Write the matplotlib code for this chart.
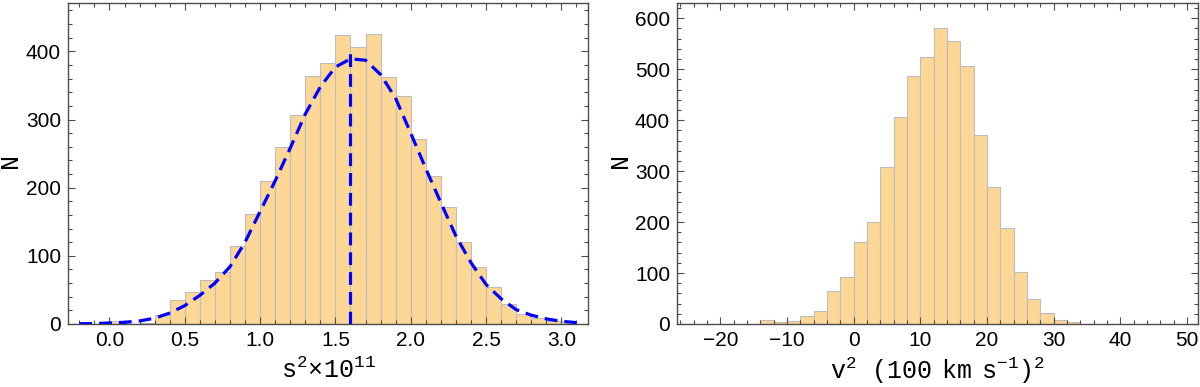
import matplotlib
matplotlib.use("Agg")
import matplotlib.pyplot as plt
from matplotlib.ticker import MultipleLocator
import numpy as np

# left histogram: s^2 x 1e11, bins of 0.1 starting at 0.0
s2_edges = np.round(np.arange(0.0, 3.1, 0.1), 2)
s2_counts = [4, 0, 1, 13, 35, 47, 64, 76, 114, 161, 210, 260, 306, 364, 383,
             424, 407, 425, 362, 335, 272, 217, 172, 120, 84, 55, 30, 15, 9, 5, 4]

# fitted curve
fit_x = np.round(np.arange(-0.2, 3.15, 0.1), 2)
fit_y = [0.3, 0.7, 1.5, 2.5, 4.5, 8.5, 16, 27, 42, 60, 84, 120, 165, 210, 258,
         308, 348, 377, 389, 387, 366, 331, 280, 228, 178, 129, 90, 58, 37,
         21, 13, 7.5, 4, 2]
peak_x = 1.6
peak_top = 402

# right histogram: v^2 in (100 km/s)^2, bins of 2 starting at -14
v2_edges = np.arange(-14, 34, 2)
v2_counts = [7, 3, 5, 16, 25, 64, 93, 161, 200, 309, 407, 487, 524, 581,
             555, 506, 371, 269, 188, 102, 50, 22, 8, 3]

bar_color = "#fdd795"
edge_color = "#bdbdbd"
frame_color = "#4d4d4d"

plt.rcParams["font.family"] = ["Liberation Sans", "DejaVu Sans"]
plt.rcParams["mathtext.fontset"] = "custom"
plt.rcParams["mathtext.rm"] = "Liberation Mono"
plt.rcParams["mathtext.it"] = "Liberation Mono"

fig = plt.figure(figsize=(12, 3.87), dpi=100)
ax1 = fig.add_axes([0.0567, 0.1628, 0.4333, 0.8295])
ax2 = fig.add_axes([0.5642, 0.1628, 0.4339, 0.8295])


def style(ax, xmaj, xmin, ymaj, ymin):
    for sp in ax.spines.values():
        sp.set_color(frame_color)
        sp.set_linewidth(1.0)
    ax.xaxis.set_major_locator(MultipleLocator(xmaj))
    ax.xaxis.set_minor_locator(MultipleLocator(xmin))
    ax.yaxis.set_major_locator(MultipleLocator(ymaj))
    ax.yaxis.set_minor_locator(MultipleLocator(ymin))
    ax.tick_params(which="both", direction="in", top=True, right=True,
                   color=frame_color, width=0.8, labelsize=15)
    ax.tick_params(which="major", length=5, pad=5)
    ax.tick_params(which="minor", length=3)


# left panel
ax1.bar(s2_edges, s2_counts, width=0.1, align="edge", color=bar_color,
        edgecolor=edge_color, linewidth=0.8, zorder=1)
ax1.plot(fit_x, fit_y, color="#0000ff", lw=2.3, ls=(0, (4, 2.2)), zorder=3)
ax1.plot([peak_x, peak_x], [0, peak_top], color="#0000ff", lw=2.3,
         ls=(0, (4, 2.2)), zorder=3)
ax1.set_xlim(-0.275, 3.177)
ax1.set_ylim(0, 471)
style(ax1, 0.5, 0.1, 100, 20)
ax1.set_xticks(np.arange(0, 3.01, 0.5))
ax1.set_xticklabels(["0.0", "0.5", "1.0", "1.5", "2.0", "2.5", "3.0"])
ax1.set_xlabel(r"$\mathrm{s}^{2}\!\times\!\mathrm{10}^{11}$", fontsize=18, va="center")
ax1.xaxis.set_label_coords(0.5, -0.145)
ax1.set_ylabel(r"$\mathrm{N}$", fontsize=18, va="center")
ax1.yaxis.set_label_coords(-0.108, 0.5)

# right panel
ax2.bar(v2_edges, v2_counts, width=2, align="edge", color=bar_color,
        edgecolor=edge_color, linewidth=0.8, zorder=1)
ax2.set_xlim(-26.5, 51.6)
ax2.set_ylim(0, 630)
style(ax2, 10, 2, 100, 20)
ax2.set_xticks(np.arange(-20, 51, 10))
ax2.set_xticklabels(["\u221220", "\u221210", "0", "10", "20", "30", "40", "50"])
ax2.set_xlabel(r"$\mathrm{v}^{2}\ \ \ \mathrm{(100\ \ km\ \ s}^{-1}\mathrm{)}^{2}$",
               fontsize=18, va="center")
ax2.xaxis.set_label_coords(0.5, -0.145)
ax2.set_ylabel(r"$\mathrm{N}$", fontsize=18, va="center")
ax2.yaxis.set_label_coords(-0.106, 0.5)

fig.savefig("out.png", dpi=100)
